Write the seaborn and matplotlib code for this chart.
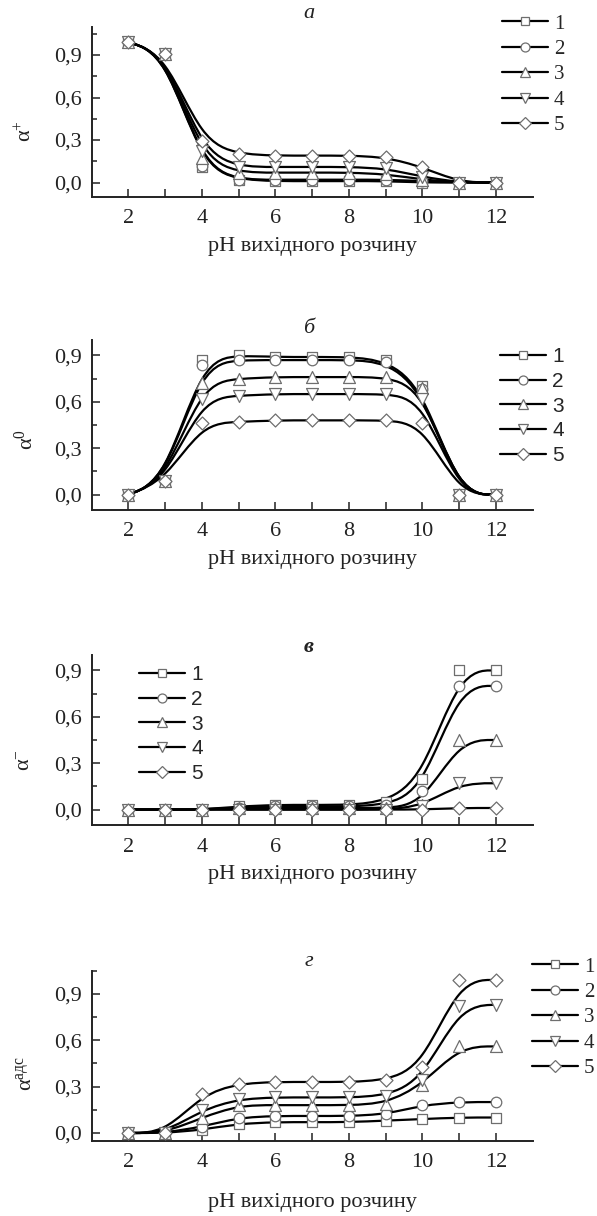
import numpy as np
import matplotlib
matplotlib.use("Agg")
import matplotlib.pyplot as plt
from matplotlib.path import Path
from matplotlib.patches import PathPatch
from matplotlib.lines import Line2D
from matplotlib.ticker import FixedLocator, FuncFormatter
import seaborn as sns

# pH of the starting solution
ph = [2, 3, 4, 5, 6, 7, 8, 9, 10, 11, 12]
labels = ["1", "2", "3", "4", "5"]
markers = ["s", "o", "^", "v", "D"]
msizes = [6.8, 7.6, 8.6, 8.6, 6.6]

# panel а, alpha+
a1 = [0.99, 0.91, 0.11, 0.02, 0.01, 0.01, 0.01, 0.01, 0.00, 0.00, 0.00]
a2 = [0.99, 0.91, 0.12, 0.02, 0.02, 0.02, 0.02, 0.02, 0.01, 0.00, 0.00]
a3 = [0.99, 0.91, 0.17, 0.07, 0.07, 0.07, 0.07, 0.06, 0.02, 0.00, 0.00]
a4 = [0.99, 0.91, 0.22, 0.11, 0.11, 0.11, 0.11, 0.10, 0.04, 0.00, 0.00]
a5 = [0.99, 0.91, 0.29, 0.20, 0.19, 0.19, 0.19, 0.18, 0.11, 0.00, 0.00]

# panel б, alpha0
b1 = [0.00, 0.09, 0.87, 0.90, 0.89, 0.89, 0.89, 0.87, 0.70, 0.00, 0.00]
b2 = [0.00, 0.09, 0.84, 0.87, 0.87, 0.87, 0.87, 0.86, 0.68, 0.00, 0.00]
b3 = [0.00, 0.09, 0.72, 0.75, 0.76, 0.76, 0.76, 0.76, 0.69, 0.00, 0.00]
b4 = [0.00, 0.09, 0.62, 0.64, 0.65, 0.65, 0.65, 0.65, 0.62, 0.00, 0.00]
b5 = [0.00, 0.09, 0.46, 0.47, 0.48, 0.48, 0.48, 0.48, 0.46, 0.00, 0.00]

# panel в, alpha-
v1 = [0.00, 0.00, 0.00, 0.02, 0.03, 0.03, 0.03, 0.05, 0.20, 0.90, 0.90]
v2 = [0.00, 0.00, 0.00, 0.01, 0.02, 0.02, 0.02, 0.03, 0.12, 0.80, 0.80]
v3 = [0.00, 0.00, 0.00, 0.01, 0.01, 0.01, 0.01, 0.01, 0.03, 0.45, 0.45]
v4 = [0.00, 0.00, 0.00, 0.00, 0.00, 0.00, 0.00, 0.00, 0.02, 0.17, 0.17]
v5 = [0.00, 0.00, 0.00, 0.00, 0.00, 0.00, 0.00, 0.00, 0.00, 0.01, 0.01]

# panel г, alpha ads
g1 = [0.00, 0.00, 0.02, 0.06, 0.07, 0.07, 0.07, 0.08, 0.09, 0.10, 0.10]
g2 = [0.00, 0.00, 0.04, 0.10, 0.11, 0.11, 0.11, 0.12, 0.18, 0.20, 0.20]
g3 = [0.00, 0.00, 0.10, 0.18, 0.18, 0.18, 0.18, 0.19, 0.31, 0.56, 0.56]
g4 = [0.00, 0.00, 0.15, 0.22, 0.23, 0.23, 0.23, 0.24, 0.34, 0.82, 0.83]
g5 = [0.00, 0.00, 0.25, 0.32, 0.33, 0.33, 0.33, 0.34, 0.43, 0.99, 0.99]

sns.set_theme(style="ticks")
plt.rcParams["font.family"] = ["Liberation Serif", "DejaVu Serif"]
plt.rcParams["mathtext.fontset"] = "custom"
plt.rcParams["mathtext.rm"] = "Liberation Serif"
plt.rcParams["mathtext.it"] = "Liberation Serif:italic"

W, H = 597, 1216
fig = plt.figure(figsize=(W / 100, H / 100), dpi=100)


def px(x, y):
    return x / W, 1 - y / H


def bspline_path(x, y):
    # B-spline connection (points used as control points, clamped ends),
    # written as cubic bezier segments
    pts = np.column_stack([x, y]).astype(float)
    q = np.vstack([pts[:1], pts[:1], pts, pts[-1:], pts[-1:]])
    verts = [tuple(q[0])]
    codes = [Path.MOVETO]
    for j in range(1, len(q) - 2):
        b1 = (2 * q[j] + q[j + 1]) / 3
        b2 = (q[j] + 2 * q[j + 1]) / 3
        b3 = (q[j] + 4 * q[j + 1] + q[j + 2]) / 6
        verts += [tuple(b1), tuple(b2), tuple(b3)]
        codes += [Path.CURVE4] * 3
    return Path(verts, codes)


panels = [
    dict(data=[a1, a2, a3, a4, a5], top=26.7, ylim=(-0.1, 1.1), title="а", tpos=(309, 14),
         ylab="α$^{+}$", ypos=(26, 131), leg=(502, 14), legfont="Liberation Serif",
         bold=False, xlpad=6),
    dict(data=[b1, b2, b3, b4, b5], top=340, ylim=(-0.1, 1.0), title="б", tpos=(309, 329),
         ylab="α$^{0}$", ypos=(26, 440), leg=(500, 347), legfont="Liberation Sans",
         bold=False, xlpad=6),
    dict(data=[v1, v2, v3, v4, v5], top=655, ylim=(-0.1, 1.0), title="в", tpos=(309, 647),
         ylab="α$^{-}$", ypos=(26, 760), leg=(139, 665), legfont="Liberation Sans",
         bold=True, xlpad=6),
    dict(data=[g1, g2, g3, g4, g5], top=970.7, ylim=(-0.05, 1.05), title="г", tpos=(309, 962),
         ylab="α$^{\\mathrm{адс}}$", ypos=(26, 1073), leg=(532, 957), legfont="Liberation Serif",
         bold=False, xlpad=15),
]

left, right = 91.7, 532.7
ax_h = 170

for p in panels:
    l, b = px(left, p["top"] + ax_h)
    ax = fig.add_axes([l, b, (right - left) / W, ax_h / H])
    for vals, mk, ms in zip(p["data"], markers, msizes):
        ax.add_patch(PathPatch(bspline_path(ph, vals), fill=False, lw=1.6,
                               ec="black", zorder=2))
        sns.scatterplot(x=ph, y=vals, marker=mk, s=ms ** 2, color="white",
                        edgecolor="#6e6e6e", linewidth=0.9, ax=ax, zorder=3)
    ax.set_xlim(1, 13)
    ax.set_ylim(*p["ylim"])
    sns.despine(ax=ax)
    for s in ["left", "bottom"]:
        ax.spines[s].set_linewidth(1.4)
        ax.spines[s].set_color("#222222")
    ax.xaxis.set_major_locator(FixedLocator([2, 4, 6, 8, 10, 12]))
    ax.xaxis.set_minor_locator(FixedLocator([3, 5, 7, 9, 11]))
    ax.yaxis.set_major_locator(FixedLocator([0, 0.3, 0.6, 0.9]))
    ax.yaxis.set_minor_locator(FixedLocator([0.15, 0.45, 0.75, 1.05]))
    ax.yaxis.set_major_formatter(FuncFormatter(lambda v, pos: f"{v:.1f}".replace(".", ",")))
    ax.tick_params(axis="both", which="both", direction="in", width=1.1, color="#222222",
                   labelsize=16, labelcolor="#222222")
    ax.tick_params(axis="x", which="both", length=6, pad=9)
    ax.tick_params(axis="y", which="major", length=6, pad=7)
    ax.tick_params(axis="y", which="minor", length=3.5)
    ax.set_xlabel("pH вихідного розчину", fontsize=16, color="#222222", labelpad=p["xlpad"])
    ax.set_ylabel("")

    fig.text(*px(*p["tpos"]), p["title"], fontsize=16, style="italic",
             fontweight="bold" if p["bold"] else "normal",
             ha="center", va="center", color="#222222")
    fig.text(*px(*p["ypos"]), p["ylab"], fontsize=16, rotation=90,
             ha="center", va="center", color="#222222")

    handles = [Line2D([], [], color="black", lw=1.6, marker=mk, ms=ms * 0.85,
                      mfc="white", mec="#6e6e6e", mew=0.9)
               for mk, ms in zip(markers, msizes)]
    fig.legend(handles, labels, loc="upper left", bbox_to_anchor=px(*p["leg"]),
               frameon=False, borderpad=0, borderaxespad=0, handlelength=2.2,
               handletextpad=0.3, labelspacing=0.28,
               prop=dict(family=p["legfont"], size=15))

fig.savefig("out.png", dpi=100)
